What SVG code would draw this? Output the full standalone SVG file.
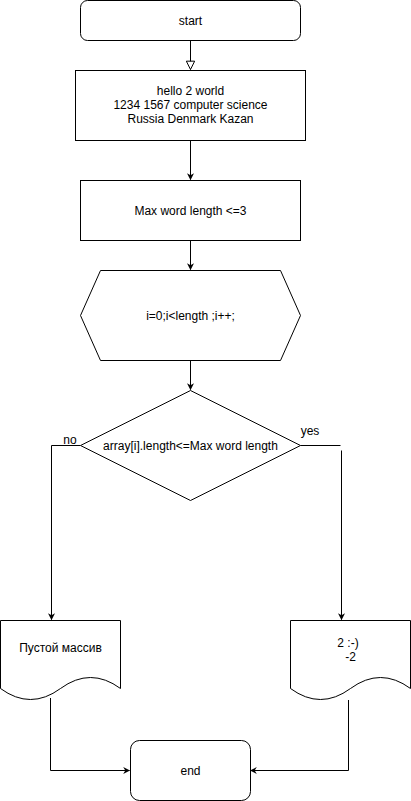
<svg xmlns="http://www.w3.org/2000/svg" width="411" height="801" viewBox="0 0 411 801">
<style>
.s{fill:#fff;stroke:#000;stroke-width:1}
.c{fill:none;stroke:#000;stroke-width:1}
text{font-family:"Liberation Sans",Arial,sans-serif;font-size:12px;fill:#000;text-anchor:middle}
</style>
<defs>
<marker id="a" viewBox="0 0 10 10" refX="9" refY="5" markerWidth="7" markerHeight="7" orient="auto" markerUnits="userSpaceOnUse">
<path d="M0,0 L10,5 L0,10 L3,5 Z" fill="#000"/>
</marker>
<marker id="h" viewBox="0 0 12 12" refX="11" refY="6" markerWidth="10" markerHeight="10" orient="auto" markerUnits="userSpaceOnUse">
<path d="M1,1 L11,6 L1,11 Z" fill="#fff" stroke="#000" stroke-width="1.2"/>
</marker>
</defs>
<g id="connectors">
<path class="c" d="M190.5,40.5 V69.5" marker-end="url(#h)"/>
<path class="c" d="M190.5,140.5 V179.5" marker-end="url(#a)"/>
<path class="c" d="M190.5,240.5 V269.5" marker-end="url(#a)"/>
<path class="c" d="M190.5,360.5 V389.5" marker-end="url(#a)"/>
<path class="c" d="M80.5,445.5 H51.5 V619.5" marker-end="url(#a)"/>
<path class="c" d="M300.5,445.5 H340.5"/>
<path class="c" d="M341.5,450.5 V619.5" marker-end="url(#a)"/>
<path class="c" d="M50.5,698 V770.5 H129.5" marker-end="url(#a)"/>
<path class="c" d="M348.5,700 V770.5 H250.5" marker-end="url(#a)"/>
<text x="70" y="444">no</text>
<text x="310" y="435">yes</text>
</g>
<g id="start">
<rect class="s" x="80.5" y="0.5" width="220" height="40" rx="7"/>
<text x="190.5" y="25">start</text>
</g>
<g id="input">
<rect class="s" x="75.5" y="70.5" width="230" height="70"/>
<text x="190.5" y="95">hello 2 world</text>
<text x="190.5" y="109">1234 1567 computer science</text>
<text x="190.5" y="123">Russia Denmark Kazan</text>
</g>
<g id="max">
<rect class="s" x="80.5" y="180.5" width="220" height="60"/>
<text x="190.5" y="215">Max word length &lt;=3</text>
</g>
<g id="loop">
<path class="s" d="M100.5,270.5 H280.5 L300.5,315.5 L280.5,360.5 H100.5 L80.5,315.5 Z"/>
<text x="190.5" y="320">i=0;i&lt;length ;i++;</text>
</g>
<g id="cond">
<path class="s" d="M190.5,390.5 L300.5,445.5 L190.5,500.5 L80.5,445.5 Z"/>
<text x="190.5" y="450">array[i].length&lt;=Max word length</text>
</g>
<g id="empty">
<path class="s" d="M0.5,620.5 H120.5 V688.5 Q90.5,666.5 60.5,688.5 Q30.5,710.5 0.5,688.5 Z"/>
<text x="60.5" y="652">Пустой массив</text>
</g>
<g id="result">
<path class="s" d="M290.5,620.5 H410.5 V688.5 Q380.5,666.5 350.5,688.5 Q320.5,710.5 290.5,688.5 Z"/>
<text x="348" y="647">2 :-)</text>
<text x="350.5" y="661">-2</text>
</g>
<g id="end">
<rect class="s" x="130.5" y="740.5" width="120" height="60" rx="9"/>
<text x="190.5" y="775">end</text>
</g>
</svg>
